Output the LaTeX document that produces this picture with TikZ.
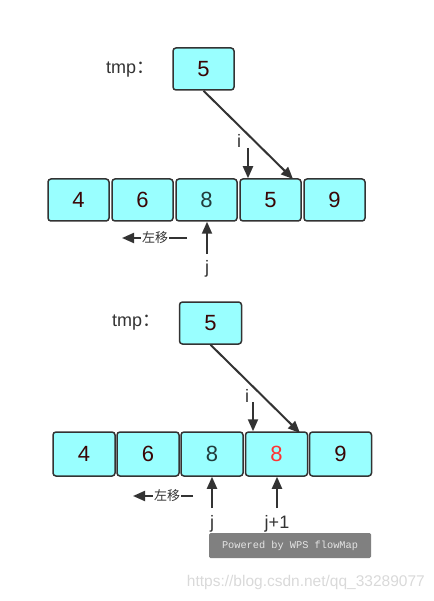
\documentclass[tikz,border=0pt]{standalone}
\usepackage{fontspec}
\setmainfont{Liberation Sans}
\newfontfamily\cjk{Noto Sans CJK SC}
\newfontfamily\wpsmono{Liberation Mono}
\usetikzlibrary{arrows.meta}
\definecolor{cellfill}{HTML}{99FFFF}
\definecolor{edge}{HTML}{333333}
\definecolor{digit}{HTML}{3A0505}
\definecolor{digiteight}{HTML}{223C3C}
\definecolor{redeight}{HTML}{FF3333}
\definecolor{wmgray}{HTML}{808080}
\definecolor{csdn}{HTML}{D9D9D9}
\tikzset{
  cell/.style={draw=edge, line width=1.5pt, fill=cellfill, rounded corners=3pt,
    minimum width=61pt, minimum height=42pt, inner sep=0pt,
    font=\fontsize{22}{24}\selectfont, text=digit},
  ptr/.style={draw=edge, line width=2pt, -{Triangle[length=12pt,width=10pt]}},
  lbl/.style={font=\fontsize{18}{20}\selectfont, text=edge, inner sep=0pt},
  shiftlbl/.style={font=\cjk\fontsize{13}{14}\selectfont, text=edge, fill=white, inner sep=1pt},
}
\begin{document}
\begin{tikzpicture}[x=1pt,y=-1pt]
\useasboundingbox (0,0) rectangle (433,601);
% ---------- top ----------
\node[lbl, anchor=west] (tmpA) at (106,70) {tmp\cjk：};
\node[cell] (tA) at (203.5,69) {5};
\node[cell] (a1) at (78.5,200) {4};
\node[cell] (a2) at (142.5,200) {6};
\node[cell, text=digiteight] (a3) at (206.5,200) {8};
\node[cell] (a4) at (270.5,200) {5};
\node[cell] (a5) at (334.5,200) {9};
\draw[ptr] (tA.south) -- (293,179) coordinate (tAend);
\node[lbl] (iA) at (239,141) {i};
\coordinate (iAs) at (248,148);
\draw[ptr] (iAs) -- (iAs |- a4.north);
\coordinate (jAs) at (207,254);
\draw[ptr] (jAs) -- (jAs |- a3.south);
\node[lbl] (jA) at (207,269) {j};
\coordinate (shAr) at (187,238);
\coordinate (shAl) at (122,238);
\draw[ptr] (shAr) -- (shAl);
\node[shiftlbl] (shA) at (155,238) {左移};
% ---------- bottom ----------
\node[lbl, anchor=west] (tmpB) at (112,323) {tmp\cjk：};
\node[cell, minimum width=62pt] (tB) at (210.5,323) {5};
\node[cell, minimum width=62pt, minimum height=44pt] (b1) at (84,454) {4};
\node[cell, minimum width=62pt, minimum height=44pt] (b2) at (148,454) {6};
\node[cell, minimum width=62pt, minimum height=44pt, text=digiteight] (b3) at (212,454) {8};
\node[cell, minimum width=62pt, minimum height=44pt, text=redeight] (b4) at (276.5,454) {8};
\node[cell, minimum width=62pt, minimum height=44pt] (b5) at (340.5,454) {9};
\draw[ptr] (tB.south) -- (300,433) coordinate (tBend);
\node[lbl] (iB) at (247,396) {i};
\coordinate (iBs) at (253,402);
\draw[ptr] (iBs) -- (iBs |- b4.north);
\coordinate (jBs) at (212,508);
\draw[ptr] (jBs) -- (jBs |- b3.south);
\node[lbl] (jB) at (212,524) {j};
\coordinate (j1Bs) at (277,508);
\draw[ptr] (j1Bs) -- (j1Bs |- b4.south);
\node[lbl] (j1B) at (277,524) {j+1};
\coordinate (shBr) at (193,496);
\coordinate (shBl) at (133,496);
\draw[ptr] (shBr) -- (shBl);
\node[shiftlbl] (shB) at (167,496) {左移};
% ---------- watermarks ----------
\node[fill=wmgray, rounded corners=1.5pt, minimum width=162pt, minimum height=25pt,
  inner sep=0pt, text=white!90!black, font=\wpsmono\fontsize{10.3}{12}\selectfont]
  (wps) at (290,545.5) {Powered by WPS flowMap};
\node[anchor=east, text=csdn, font=\fontsize{15.5}{17}\selectfont, inner sep=0pt]
  (url) at (425,582) {https://blog.csdn.net/qq\_33289077};
\end{tikzpicture}
\end{document}
